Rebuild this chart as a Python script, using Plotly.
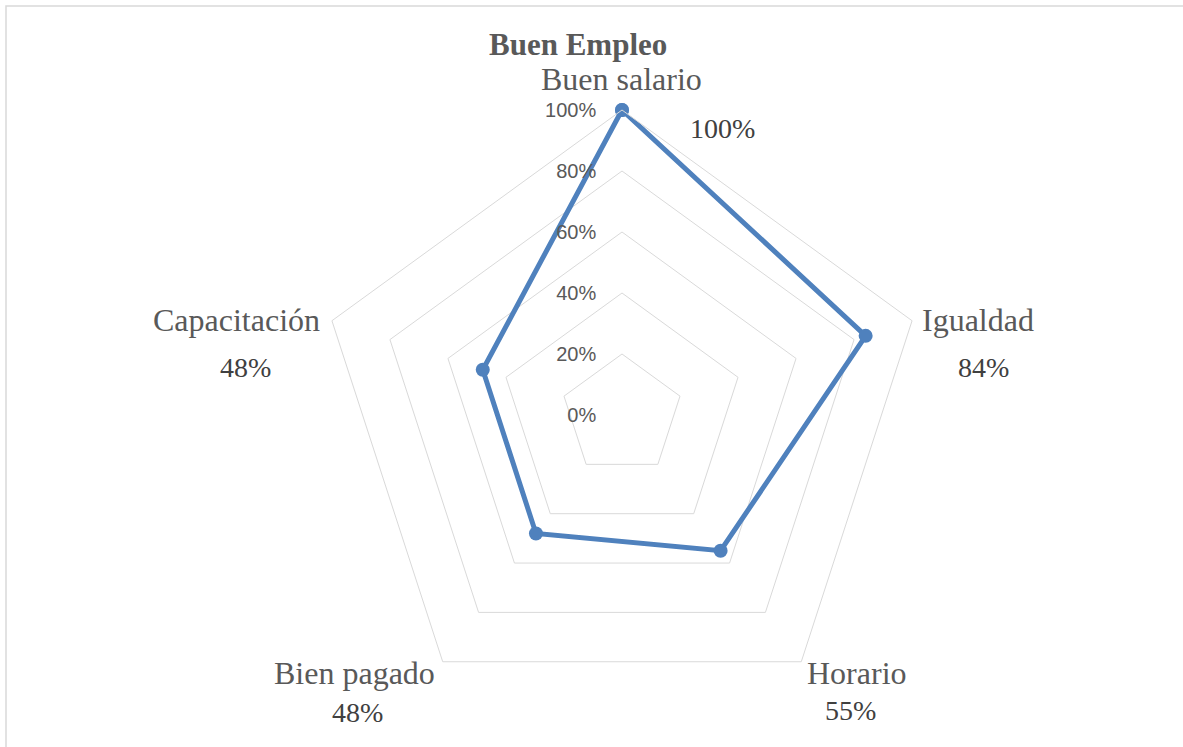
import plotly.graph_objects as go

# Encuesta "Buen Empleo": share of respondents per attribute
categorias = ["Buen salario", "Igualdad", "Horario", "Bien pagado", "Capacitación"]
valores = [1.00, 0.84, 0.55, 0.48, 0.48]
ticks_radiales = [0, 0.2, 0.4, 0.6, 0.8, 1.0]
etiquetas_radiales = ["0%", "20%", "40%", "60%", "80%", "100%"]

W, H = 1183, 747
CX, CY, R = 622, 415, 305  # polar centre and radius in pixels

GRID = "#d9d9d9"
TXT = "#595959"
LINE = "#4f81bd"

fig = go.Figure()
fig.add_trace(go.Scatterpolar(
    r=valores + valores[:1],
    theta=categorias + categorias[:1],
    mode="lines+markers",
    line=dict(color=LINE, width=5),
    marker=dict(color=LINE, size=14),
    hoverinfo="skip",
    showlegend=False,
))

# pixel anchors of the category name and its value label
pos_nombre = {
    "Buen salario": (621, 79),
    "Igualdad": (978, 320),
    "Horario": (857, 673),
    "Bien pagado": (354, 673),
    "Capacitación": (236, 320),
}
pos_valor = {
    "Buen salario": (722, 128),
    "Igualdad": (983, 367),
    "Horario": (851, 710),
    "Bien pagado": (357, 712),
    "Capacitación": (245, 367),
}


def nota(text, px, py, size, color):
    return dict(
        text=text, x=px / W, y=1 - py / H, xref="paper", yref="paper",
        xanchor="center", yanchor="middle", showarrow=False,
        font=dict(family="Liberation Serif", size=size, color=color),
    )


annotations = []
for cat, v in zip(categorias, valores):
    annotations.append(nota(cat, *pos_nombre[cat], 32, TXT))
    annotations.append(nota(f"{round(v * 100)}%", *pos_valor[cat], 28, "#404040"))

annotations.append(nota("<b>Buen Empleo</b>", 578, 45, 31, TXT))

# trailing padding keeps the radial labels just left of the vertical axis
pad = "&nbsp;" * 4

fig.update_layout(
    width=W, height=H,
    margin=dict(l=0, r=0, t=0, b=0),
    paper_bgcolor="white",
    plot_bgcolor="white",
    annotations=annotations,
    shapes=[dict(
        type="rect", xref="paper", yref="paper",
        x0=6 / W, x1=1.02, y0=-0.02, y1=1 - 6 / H,
        line=dict(color=GRID, width=1.5), fillcolor="rgba(0,0,0,0)",
        layer="below",
    )],
    polar=dict(
        domain=dict(
            x=[(CX - R) / W, (CX + R) / W],
            y=[1 - (CY + R) / H, 1 - (CY - R) / H],
        ),
        bgcolor="white",
        gridshape="linear",
        radialaxis=dict(
            range=[0, 1],
            tickvals=ticks_radiales,
            ticktext=[t + pad for t in etiquetas_radiales],
            angle=90,
            tickangle=90,
            side="counterclockwise",
            showline=False,
            ticks="",
            gridcolor=GRID,
            gridwidth=1,
            tickfont=dict(family="Liberation Sans", size=20, color=TXT),
        ),
        angularaxis=dict(
            direction="clockwise",
            rotation=90,
            showgrid=False,
            showline=True,
            linecolor=GRID,
            linewidth=1,
            ticks="",
            showticklabels=False,
        ),
    ),
)

fig.write_html("out.html")
